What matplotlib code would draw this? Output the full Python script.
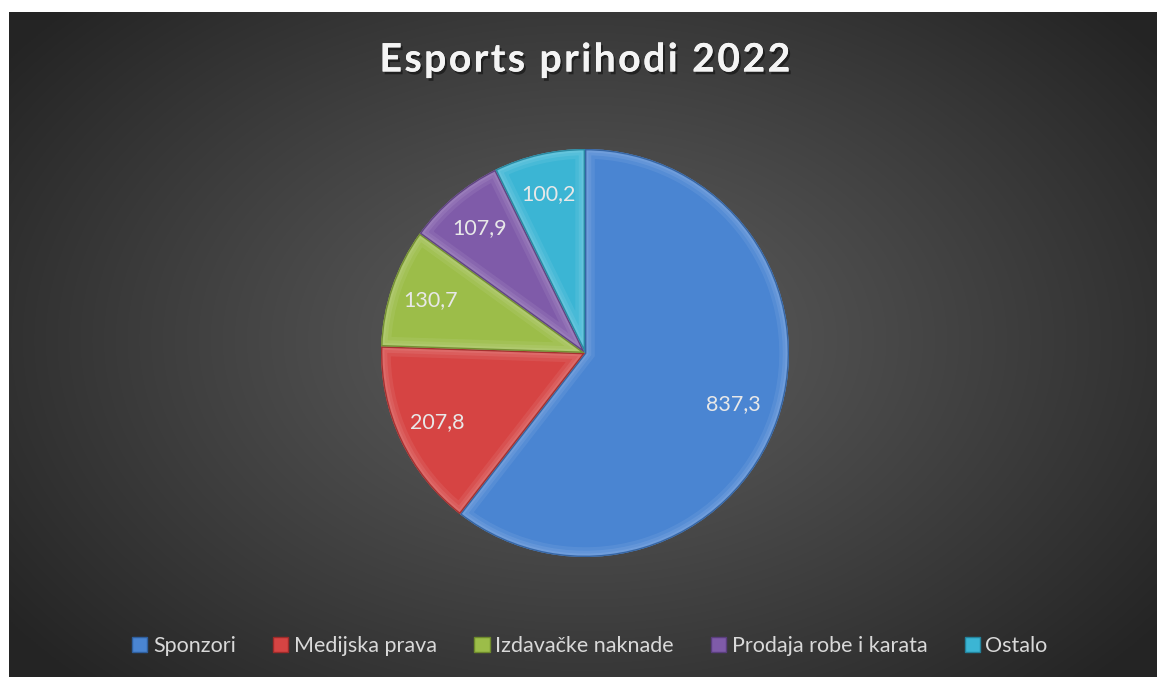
import numpy as np
import matplotlib.pyplot as plt
import matplotlib.patheffects as pe
from matplotlib.patches import Wedge

# data
categories = ["Sponzori", "Medijska prava", "Izdavačke naknade",
              "Prodaja robe i karata", "Ostalo"]
values = [837.3, 207.8, 130.7, 107.9, 100.2]
value_labels = ["837,3", "207,8", "130,7", "107,9", "100,2"]
title = "Esports prihodi 2022"

colors = ["#4a85d2", "#d64443", "#9cbd49", "#7f5ba9", "#3bb5d4"]
edge_colors = ["#2f5f9e", "#9e2b2a", "#6e8a2c", "#5a3e7d", "#23839c"]

W, H = 1157, 677
fig = plt.figure(figsize=(W / 100, H / 100), dpi=100)
fig.patch.set_facecolor("white")

# radial gradient background
bg = fig.add_axes([9 / W, 0, (W - 9) / W, (H - 12) / H])
bg.set_axis_off()
yy, xx = np.mgrid[0:1:300j, 0:1:500j]
cx, cy = (585 - 9) / (W - 9), 1 - (340 - 12) / (H - 12)
d = np.sqrt(((xx - cx) / 0.62) ** 2 + ((yy - cy) / 0.72) ** 2)
d = np.clip(d, 0, 1)
shade = 0.37 - (0.37 - 0.145) * d ** 1.1
img = np.dstack([shade, shade, shade])
bg.imshow(img, origin="lower", extent=[0, 1, 0, 1], aspect="auto",
          interpolation="bilinear")

# pie
cxp, cyp, r = 585, 353, 204
ax = fig.add_axes([(cxp - r) / W, (H - cyp - r) / H, 2 * r / W, 2 * r / H])
wedges, _ = ax.pie(values, colors=colors, startangle=90, counterclock=False,
                   wedgeprops=dict(linewidth=0))
ax.set_xlim(-1, 1)
ax.set_ylim(-1, 1)
ax.set_aspect("equal")
ax.set_axis_off()

for w, ec, lab in zip(wedges, edge_colors, value_labels):
    # soft bevel: light rim inside, dark outline
    for lw, a in [(14, 0.07), (9, 0.08), (5, 0.08)]:
        rim = Wedge(w.center, w.r, w.theta1, w.theta2, facecolor="none",
                    edgecolor="white", alpha=a, linewidth=lw)
        ax.add_patch(rim)
        rim.set_clip_path(w)
    outline = Wedge(w.center, w.r, w.theta1, w.theta2, facecolor="none",
                    edgecolor=ec, alpha=0.9, linewidth=2)
    ax.add_patch(outline)
    outline.set_clip_path(w)
    mid = np.deg2rad((w.theta1 + w.theta2) / 2)
    dist = 0.77 if lab == "837,3" else 0.8
    ax.text(dist * np.cos(mid), dist * np.sin(mid), lab, ha="center",
            va="center", color="#e8e8e8", fontsize=15.5, family="Lato")

# title, spaced out like the original
spaced = "\u200a".join(title)
fig.text(cxp / W, 1 - 60 / H, spaced, ha="center", va="center",
         color="#f4f4f4", fontsize=28.2, fontweight="bold",
         family=["Lato", "DejaVu Sans"],
         path_effects=[pe.withSimplePatchShadow(offset=(1.5, -2),
                                                 shadow_rgbFace="black",
                                                 alpha=0.45), pe.Normal()])

# legend
handles = [plt.Rectangle((0, 0), 1, 1, facecolor=c, edgecolor=e, linewidth=1)
           for c, e in zip(colors, edge_colors)]
leg = fig.legend(handles, categories, loc="center", ncol=5,
                 bbox_to_anchor=(590 / W, 1 - 646 / H), frameon=False,
                 prop=dict(family="Lato", size=15.5),
                 labelcolor="#d9d9d9", handlelength=0.7, handleheight=0.7,
                 handletextpad=0.25, columnspacing=1.75)

fig.savefig("out.png", dpi=100, facecolor=fig.get_facecolor())
